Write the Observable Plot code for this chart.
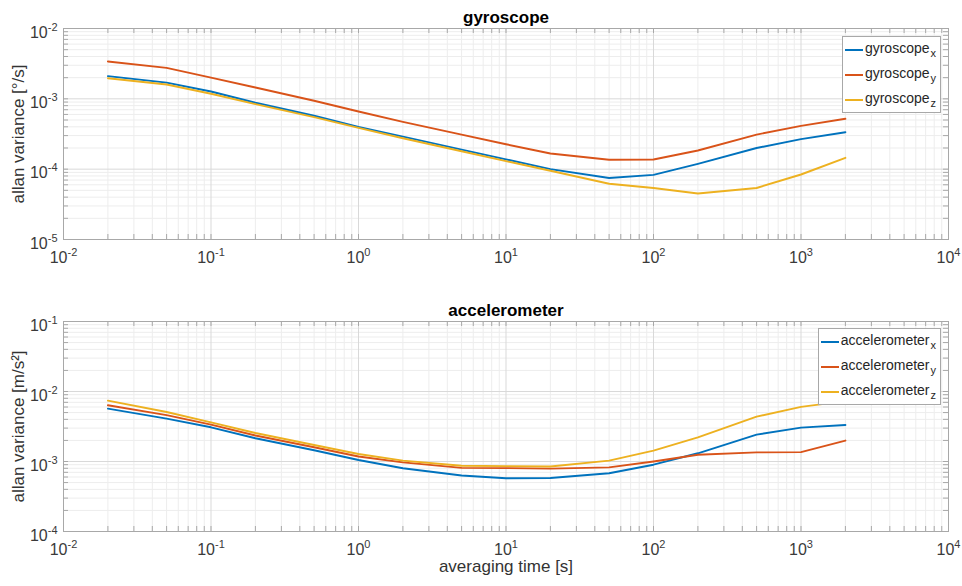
<!DOCTYPE html>
<html><head><meta charset="utf-8">
<script src="https://cdn.jsdelivr.net/npm/d3@7"></script>
<script src="https://cdn.jsdelivr.net/npm/@observablehq/plot@0.6"></script>
<style>
body{margin:0;background:#fff;font-family:"Liberation Sans",Arial,Helvetica,sans-serif;}
#chart{position:relative;width:962px;height:586px;overflow:hidden;}
.panel{position:absolute;left:0;}
.legend{position:absolute;background:#fff;border:1px solid #a8a8a8;font-size:14px;color:#262626;padding:0 4px 0 2px;}
.legend .row{position:relative;height:25px;white-space:nowrap;display:flex;align-items:center;}
.legend .sw{width:18px;height:2px;margin-right:2px;}
.legend .tx{position:relative;top:-2px;}
.legend sub{font-size:11px;position:relative;top:4px;vertical-align:baseline;margin-left:1px;}
</style></head><body><div id="chart"></div><script>
// averaging times [s]
const tau = [0.02, 0.05, 0.1, 0.2, 0.5, 1, 2, 5, 10, 20, 50, 100, 200, 500, 1000, 2000];
// gyroscope allan variance [°/s]
const gyroX = [2.1e-3, 1.7e-3, 1.27e-3, 8.8e-4, 5.75e-4, 4.0e-4, 2.9e-4, 1.9e-4, 1.38e-4, 1.0e-4, 7.5e-5, 8.3e-5, 1.19e-4, 2.0e-4, 2.67e-4, 3.35e-4];
const gyroY = [3.4e-3, 2.76e-3, 2.0e-3, 1.45e-3, 9.4e-4, 6.6e-4, 4.7e-4, 3.1e-4, 2.26e-4, 1.67e-4, 1.36e-4, 1.37e-4, 1.84e-4, 3.1e-4, 4.13e-4, 5.2e-4];
const gyroZ = [1.96e-3, 1.6e-3, 1.18e-3, 8.4e-4, 5.5e-4, 3.86e-4, 2.75e-4, 1.8e-4, 1.3e-4, 9.5e-5, 6.2e-5, 5.4e-5, 4.5e-5, 5.4e-5, 8.4e-5, 1.45e-4];
// accelerometer allan variance [m/s²]
const accX = [5.7e-3, 4.1e-3, 3.08e-3, 2.15e-3, 1.45e-3, 1.05e-3, 8.0e-4, 6.3e-4, 5.75e-4, 5.8e-4, 6.8e-4, 9.0e-4, 1.31e-3, 2.42e-3, 3.05e-3, 3.33e-3];
const accY = [6.35e-3, 4.6e-3, 3.36e-3, 2.35e-3, 1.6e-3, 1.18e-3, 9.7e-4, 8.1e-4, 8.05e-4, 7.9e-4, 8.25e-4, 1.0e-3, 1.25e-3, 1.35e-3, 1.36e-3, 1.99e-3];
const accZ = [7.4e-3, 5.1e-3, 3.63e-3, 2.55e-3, 1.72e-3, 1.28e-3, 1.03e-3, 8.7e-4, 8.6e-4, 8.5e-4, 1.03e-3, 1.43e-3, 2.21e-3, 4.38e-3, 6.03e-3, 7.3e-3];

const seriesColors = ["#0072BD", "#D95319", "#EDB120"];
const axisLetters = ["x", "y", "z"];
const xExp = [-2, 4];
const gyroExp = [-5, -2];
const accExp = [-4, -1];

const chart = document.getElementById("chart");

function decades([a, b]) { return d3.range(a, b + 1).map(e => Number(`1e${e}`)); }
function minors([a, b]) {
  const out = [];
  for (let e = a; e < b; e++) for (let m = 2; m <= 9; m++) out.push(Number(`${m}e${e}`));
  return out;
}

function panel({top, height, marginTop, marginBottom, title, ylabel, xlabel, yExp, name, values}) {
  const data = values.flatMap((vals, k) => tau.map((t, i) => ({t, v: vals[i], key: name + axisLetters[k]})));
  const keys = axisLetters.map(a => name + a);
  const xMaj = decades(xExp), xMin = minors(xExp);
  const yMaj = decades(yExp), yMin = minors(yExp);
  const W = 962, mL = 63, mR = 14;
  const innerW = W - mL - mR, innerH = height - marginTop - marginBottom;
  const tickLen = 5, tickCol = "#a8a8a8";
  const svg = Plot.plot({
    width: W, height, marginLeft: mL, marginRight: mR, marginTop, marginBottom,
    style: {fontFamily: '"Liberation Sans", Arial, sans-serif', fontSize: "16px", color: "#3a3a3a", background: "white"},
    x: {type: "log", domain: [xMaj[0], xMaj[xMaj.length - 1]]},
    y: {type: "log", domain: [yMaj[0], yMaj[yMaj.length - 1]]},
    color: {domain: keys, range: seriesColors},
    marks: [
      Plot.ruleX(xMin, {stroke: "#ededed"}),
      Plot.ruleY(yMin, {stroke: "#ededed"}),
      Plot.ruleX(xMaj, {stroke: "#d9d9d9"}),
      Plot.ruleY(yMaj, {stroke: "#d9d9d9"}),
      Plot.line(data, {x: "t", y: "v", z: "key", stroke: "key", strokeWidth: 1.9}),
      Plot.frame({stroke: tickCol}),
      Plot.tickX(xMin.concat(xMaj), {insetTop: innerH - tickLen, stroke: tickCol}),
      Plot.tickX(xMin.concat(xMaj), {insetBottom: innerH - tickLen, stroke: tickCol}),
      Plot.tickY(yMin.concat(yMaj), {insetRight: innerW - tickLen, stroke: tickCol}),
      Plot.tickY(yMin.concat(yMaj), {insetLeft: innerW - tickLen, stroke: tickCol}),
      Plot.axisX({ticks: xMaj, tickSize: 0, tickPadding: 12, fontSize: 16, tickFormat: d => String(Math.round(Math.log10(d))),
        label: xlabel, labelAnchor: "center", labelArrow: "none", labelOffset: 40}),
      Plot.axisY({ticks: yMaj, tickSize: 0, tickPadding: 6, dy: 4, fontSize: 16, tickFormat: d => String(Math.round(Math.log10(d))),
        label: ylabel, labelAnchor: "center", labelArrow: "none", labelOffset: 52}),
      Plot.text([title], {frameAnchor: "top", dy: -5.5, lineAnchor: "bottom", fontWeight: "bold", fontSize: 17, fill: "#000"})
    ]
  });
  const s = d3.select(svg);
  s.selectAll('g[aria-label="x-axis tick label"] text, g[aria-label="y-axis tick label"] text').each(function () {
    const t = d3.select(this);
    const e = t.text();
    t.text(null);
    t.append("tspan").attr("font-size", "16px").text("10");
    t.append("tspan").attr("dy", "-7").attr("font-size", "11px").text(e);
  });
  s.selectAll('g[aria-label="x-axis tick label"], g[aria-label="y-axis tick label"]').attr("font-size", 16);
  s.selectAll('g[aria-label="x-axis label"], g[aria-label="y-axis label"]').attr("font-size", 17);
  s.selectAll('g[aria-label="x-axis label"] text, g[aria-label="y-axis label"] text').attr("font-size", 17).attr("fill", "#333");
  const wrap = document.createElement("div");
  wrap.className = "panel";
  wrap.style.top = top + "px";
  wrap.appendChild(svg);
  chart.appendChild(wrap);
  return keys;
}

function legend(keys, top) {
  const box = document.createElement("div");
  box.className = "legend";
  box.style.top = top + "px";
  box.style.right = "21px";
  keys.forEach((k, i) => {
    const row = document.createElement("div");
    row.className = "row";
    const sw = document.createElement("div");
    sw.className = "sw";
    sw.style.background = seriesColors[i];
    const tx = document.createElement("span");
    tx.className = "tx";
    tx.innerHTML = k.slice(0, -1) + "<sub>" + k.slice(-1) + "</sub>";
    row.appendChild(sw); row.appendChild(tx);
    box.appendChild(row);
  });
  chart.appendChild(box);
}

const gKeys = panel({top: 0, height: 290, marginTop: 28, marginBottom: 51, title: "gyroscope",
  ylabel: "allan variance [°/s]", xlabel: null, yExp: gyroExp, name: "gyroscope", values: [gyroX, gyroY, gyroZ]});
const aKeys = panel({top: 290, height: 296, marginTop: 31, marginBottom: 55, title: "accelerometer",
  ylabel: "allan variance [m/s²]", xlabel: "averaging time [s]", yExp: accExp, name: "accelerometer", values: [accX, accY, accZ]});
legend(gKeys, 36);
legend(aKeys, 328);
</script></body></html>
